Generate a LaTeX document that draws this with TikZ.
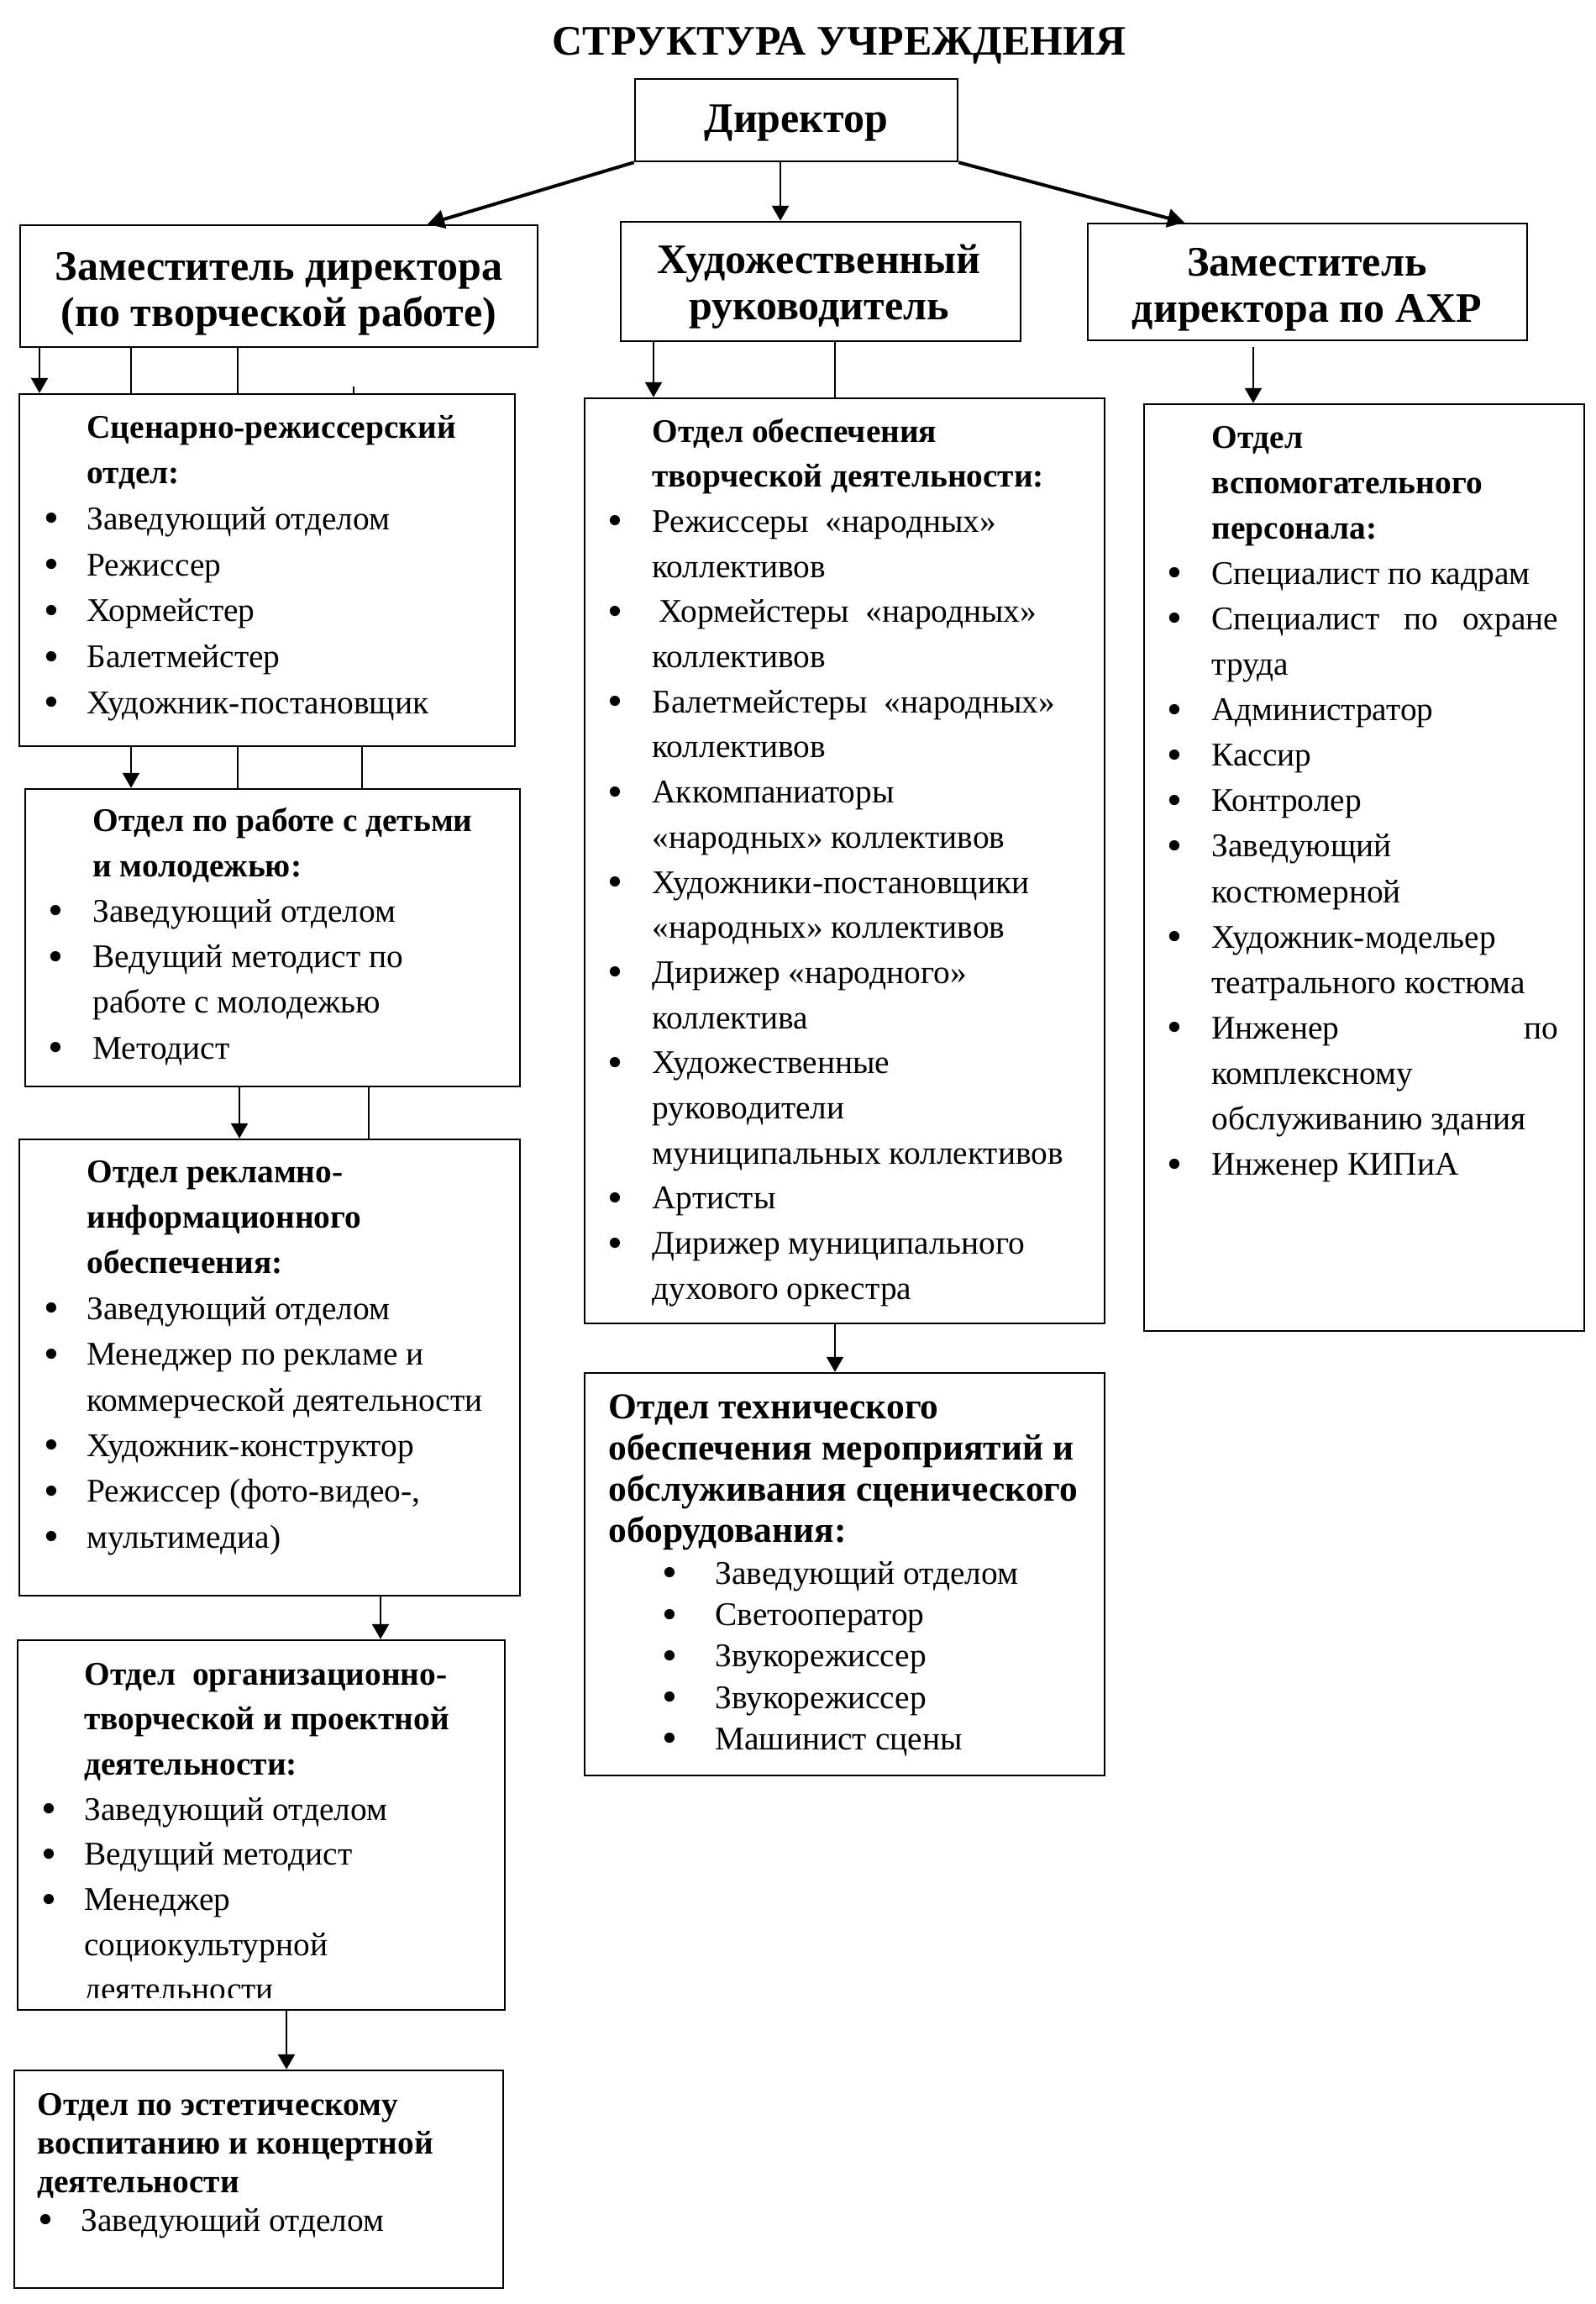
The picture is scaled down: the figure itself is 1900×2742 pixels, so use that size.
\documentclass[tikz,border=0pt]{standalone}
\usepackage{fontspec}
\usepackage{graphicx}
\setmainfont{Liberation Serif}
\usetikzlibrary{arrows.meta,fit}
\newcommand\bul[1][42pt]{\leavevmode\llap{\makebox[#1][c]{\raisebox{-0.09em}{\scalebox{1.3}{\textbullet}}}}}
\newcommand\dfontsk[1]{\fontsize{19.7}{#1}\selectfont}
\begin{document}
\begin{tikzpicture}[x=0.5pt,y=-0.5pt,
  box/.style={draw, line width=1.25pt, inner sep=0pt},
  hdr/.style={inner sep=0pt, anchor=base, font=\fontsize{25}{27.5}\selectfont\bfseries},
  txt/.style={inner sep=0pt, anchor=base west},
  conn/.style={line width=1.25pt},
  arr/.style={conn, -{Triangle[length=9pt,width=10pt]}},
  thickarr/.style={line width=2pt, -{Triangle[length=10pt,width=11pt]}}]
\useasboundingbox (0,0) rectangle (1900,2742);
\fill[white] (0,0) rectangle (1900,2742);

% title
\node[hdr] (title) at (999,65) {СТРУКТУРА УЧРЕЖДЕНИЯ};

% top level
\node[box, fit={(756,94) (1140,192)}] (dir) {};
\node[hdr] (dirT) at (948,157) {Директор};

\node[box, fit={(24,268) (640,413)}] (zam) {};
\node[hdr] (zamT) at (332,333) {\parbox[t]{320pt}{\centering Заместитель директора\\(по творческой работе)}};

\node[box, fit={(739,264) (1215,406)}] (khud) {};
\node[hdr] (khudT) at (975,325) {\parbox[t]{320pt}{\centering Художественный\\руководитель}};

\node[box, fit={(1295,266) (1818,405)}] (axp) {};
\node[hdr] (axpT) at (1556,328) {\parbox[t]{320pt}{\centering Заместитель\\директора по АХР}};

% left column
\node[box, fit={(23,469) (613,888)}] (sr) {};
\node[txt, font=\dfontsk{27.35pt}] (srT) at (103,521) {\parbox[t]{300pt}{%
\textbf{Сценарно-режиссерский}\\
\textbf{отдел:}\\
\bul Заведующий отделом\\
\bul Режиссер\\
\bul Хормейстер\\
\bul Балетмейстер\\
\bul Художник-постановщик}};

\node[box, fit={(30,939) (619,1293)}] (deti) {};
\node[txt, font=\dfontsk{27.1pt}] (detiT) at (110,989) {\parbox[t]{300pt}{%
\textbf{Отдел по работе с детьми}\\
\textbf{и молодежью:}\\
\bul[44pt]Заведующий отделом\\
\bul[44pt]Ведущий методист по\\
работе с молодежью\\
\bul[44pt]Методист}};

\node[box, fit={(23,1356) (619,1899)}] (rek) {};
\node[txt, font=\dfontsk{27.2pt}] (rekT) at (103,1407) {\parbox[t]{300pt}{%
\textbf{Отдел рекламно-}\\
\textbf{информационного}\\
\textbf{обеспечения:}\\
\bul Заведующий отделом\\
\bul Менеджер по рекламе и\\
коммерческой деятельности\\
\bul Художник-конструктор\\
\bul Режиссер (фото-видео-,\\
\bul мультимедиа)}};

\node[box, fit={(21,1952) (601,2392)}] (org) {};
\begin{scope}
\clip (21,1952) rectangle (601,2377);
\node[txt, font=\dfontsk{26.85pt}] (orgT) at (100,2005) {\parbox[t]{300pt}{%
\textbf{Отдел~~организационно-}\\
\textbf{творческой и проектной}\\
\textbf{деятельности:}\\
\bul Заведующий отделом\\
\bul Ведущий методист\\
\bul Менеджер\\
социокультурной\\
деятельности}};
\end{scope}

\node[box, fit={(17,2464) (599,2723)}] (est) {};
\node[txt, font=\dfontsk{23pt}] (estT) at (44,2517) {\parbox[t]{300pt}{%
\textbf{Отдел по эстетическому}\\
\textbf{воспитанию и концертной}\\
\textbf{деятельности}\\
\hspace*{26pt}\bul Заведующий отделом}};

% middle column
\node[box, fit={(696,474) (1315,1575)}] (obesp) {};
\node[txt, font=\dfontsk{26.85pt}] (obespT) at (776,526) {\parbox[t]{300pt}{%
\textbf{Отдел обеспечения}\\
\textbf{творческой деятельности:}\\
\bul[44pt]Режиссеры~~«народных»\\
коллективов\\
\bul[44pt]\hspace*{4pt}Хормейстеры~~«народных»\\
коллективов\\
\bul[44pt]Балетмейстеры~~«народных»\\
коллективов\\
\bul[44pt]Аккомпаниаторы\\
«народных» коллективов\\
\bul[44pt]Художники-постановщики\\
«народных» коллективов\\
\bul[44pt]Дирижер «народного»\\
коллектива\\
\bul[44pt]Художественные\\
руководители\\
муниципальных коллективов\\
\bul[44pt]Артисты\\
\bul[44pt]Дирижер муниципального\\
духового оркестра}};

\node[box, fit={(696,1634) (1315,2113)}] (tech) {};
\node[txt, font=\dfontsk{24.65pt}] (techT) at (724,1688) {\parbox[t]{300pt}{%
{\fontsize{21.75}{24.65pt}\selectfont\bfseries Отдел технического\\
обеспечения мероприятий и\\
обслуживания сценического\\
оборудования:}\\
\hspace*{63.5pt}\bul[54pt]Заведующий отделом\\
\hspace*{63.5pt}\bul[54pt]Светооператор\\
\hspace*{63.5pt}\bul[54pt]Звукорежиссер\\
\hspace*{63.5pt}\bul[54pt]Звукорежиссер\\
\hspace*{63.5pt}\bul[54pt]Машинист сцены}};

% right column
\node[box, fit={(1362,481) (1886,1584)}] (vsp) {};
\node[txt, font=\dfontsk{27.05pt}] (vspT) at (1442,533) {\parbox[t]{300pt}{%
\textbf{Отдел}\\
\textbf{вспомогательного}\\
\textbf{персонала:}\\
\bul[44pt]Специалист по кадрам\\
\bul[44pt]\makebox[206.5pt]{Специалист\hfill по\hfill охране}\\
труда\\
\bul[44pt]Администратор\\
\bul[44pt]Кассир\\
\bul[44pt]Контролер\\
\bul[44pt]Заведующий\\
костюмерной\\
\bul[44pt]Художник-модельер\\
театрального костюма\\
\bul[44pt]\makebox[206.5pt]{Инженер\hfill по}\\
комплексному\\
обслуживанию здания\\
\bul[44pt]Инженер КИПиА}};

% connectors from director
\draw[thickarr] (dir.south west) -- (509,0 |- zam.north);
\draw[arr] (929,0 |- dir.south) -- (929,0 |- khud.north);
\draw[thickarr] (dir.south east) -- (1410,0 |- axp.north);

% zam -> sr
\draw[arr] (47,0 |- zam.south) -- (47,0 |- sr.north);
\draw[conn] (156,0 |- zam.south) -- (156,0 |- sr.north);
\draw[conn] (283,0 |- zam.south) -- (283,0 |- sr.north);
\coordinate (stub) at (421,460);
\draw[conn] (stub) -- (421,0 |- sr.north);

% sr -> deti
\draw[arr] (156,0 |- sr.south) -- (156,0 |- deti.north);
\draw[conn] (283,0 |- sr.south) -- (283,0 |- deti.north);
\draw[conn] (431,0 |- sr.south) -- (431,0 |- deti.north);

% deti -> rek
\draw[arr] (285,0 |- deti.south) -- (285,0 |- rek.north);
\draw[conn] (439,0 |- deti.south) -- (439,0 |- rek.north);

% rek -> org -> est
\draw[arr] (453,0 |- rek.south) -- (453,0 |- org.north);
\draw[arr] (341,0 |- org.south) -- (341,0 |- est.north);

% khud -> obesp -> tech
\draw[arr] (778,0 |- khud.south) -- (778,0 |- obesp.north);
\draw[conn] (994,0 |- khud.south) -- (994,0 |- obesp.north);
\draw[arr] (994,0 |- obesp.south) -- (994,0 |- tech.north);

% axp -> vsp
\coordinate (axpOut) at (1492,413);
\draw[arr] (axpOut) -- (1492,0 |- vsp.north);
\end{tikzpicture}
\end{document}
